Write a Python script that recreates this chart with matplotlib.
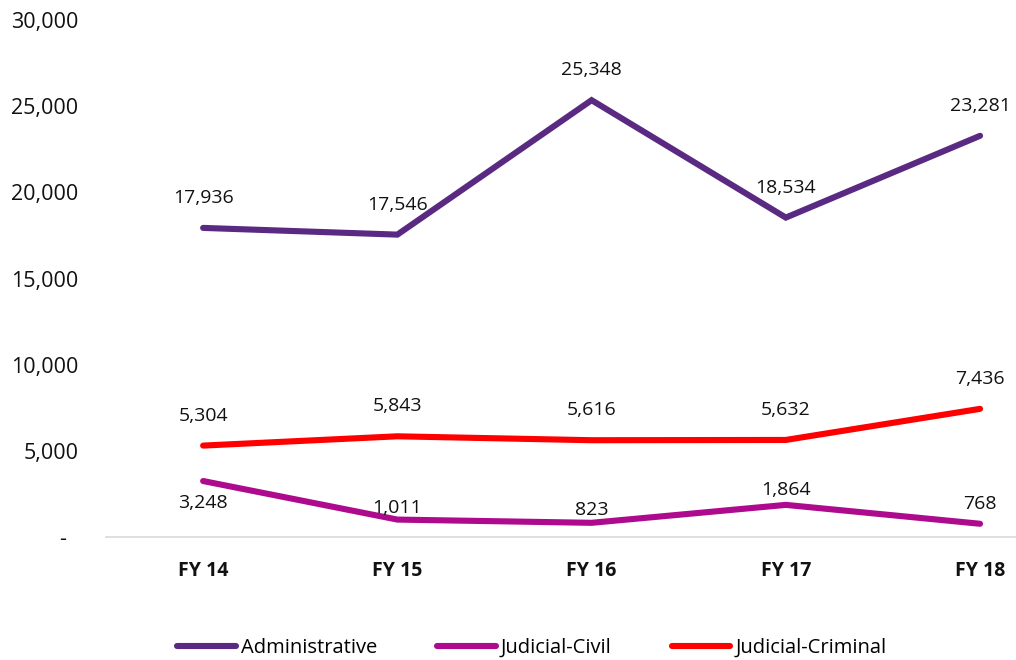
import matplotlib
matplotlib.use("Agg")
import matplotlib.pyplot as plt
from matplotlib.ticker import FuncFormatter

plt.rcParams['font.family'] = ['Open Sans', 'DejaVu Sans']

# data
years = ['FY 14', 'FY 15', 'FY 16', 'FY 17', 'FY 18']
administrative = [17936, 17546, 25348, 18534, 23281]
judicial_civil = [3248, 1011, 823, 1864, 768]
judicial_criminal = [5304, 5843, 5616, 5632, 7436]

series = [
    ('Administrative', administrative, '#5a2a82', [30, 30, 30, 30, 30]),
    ('Judicial-Civil', judicial_civil, '#ae0a8d', [-22, 12, 13, 15, 20]),
    ('Judicial-Criminal', judicial_criminal, '#ff0000', [30, 30, 30, 30, 30]),
]

fig = plt.figure(figsize=(10.16, 6.6), dpi=100)
ax = fig.add_axes([106 / 1016, 123 / 660, 1 - 106 / 1016, 517 / 660])

x = list(range(len(years)))
for name, vals, color, offs in series:
    ax.plot(x, vals, color=color, lw=4.4, solid_capstyle='round',
            solid_joinstyle='miter', label=name)
    for xi, v, off in zip(x, vals, offs):
        ax.annotate(f'{v:,}', (xi, v), xytext=(0, off * 0.72),
                    textcoords='offset points', ha='center', va='center',
                    fontsize=14, color='#111111')

ax.set_xlim(-0.5, 4.185)
ax.set_ylim(0, 30000)
ax.set_yticks(range(0, 30001, 5000))
ax.yaxis.set_major_formatter(FuncFormatter(lambda v, p: '-  ' if v == 0 else f'{int(v):,}'))
ax.set_xticks(x)
ax.set_xticklabels(years, fontweight='bold', fontsize=14)
ax.tick_params(axis='y', length=0, pad=20, labelsize=15.5, labelcolor='#111111')
ax.tick_params(axis='x', length=0, pad=17, labelcolor='#111111')

for s in ['top', 'right', 'left']:
    ax.spines[s].set_visible(False)
ax.spines['bottom'].set_color('#d9d9d9')
ax.spines['bottom'].set_linewidth(1.2)

fig.legend(loc='center', bbox_to_anchor=(532 / 1016, 12 / 660), ncol=3,
           frameon=False, fontsize=14.5, handlelength=2.9, handletextpad=0.25,
           columnspacing=3.0, borderaxespad=0)

fig.savefig('out.png', dpi=100)
